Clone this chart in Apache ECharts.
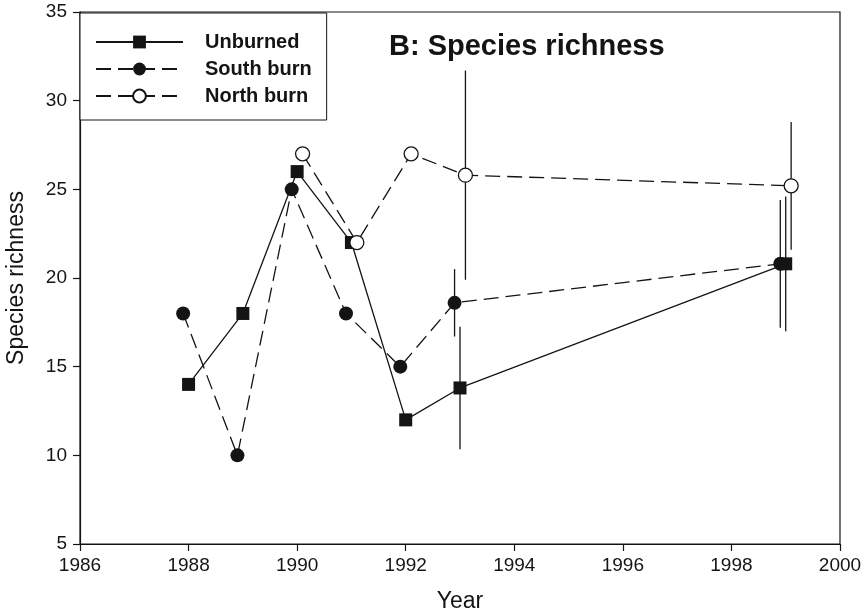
<!DOCTYPE html>
<html>
<head>
<meta charset="utf-8">
<title>Species richness</title>
<script src="https://cdn.jsdelivr.net/npm/echarts@6/dist/echarts.min.js"></script>
<style>
  html, body { margin: 0; padding: 0; background: #fff; }
  #chart { width: 868px; height: 614px; }
</style>
</head>
<body>
<div id="chart"></div>
<script>
// Survey years (plotted with a small horizontal offset per treatment)
const unburnedYears = [1988, 1989, 1990, 1991, 1992, 1993, 1999];
const unburnedValues = [14, 18, 26, 22, 12, 13.8, 20.8];
const unburnedErr = [null, null, null, null, null, 3.45, 3.8];

const southYears = [1987.9, 1988.9, 1989.9, 1990.9, 1991.9, 1992.9, 1998.9];
const southValues = [18, 10, 25, 18, 15, 18.6, 20.8];
const southErr = [null, null, null, null, null, 1.9, 3.6];

const northYears = [1990.1, 1991.1, 1992.1, 1993.1, 1999.1];
const northValues = [27, 22, 27, 25.8, 25.2];
const northErr = [null, null, null, 5.9, 3.6];

const seriesNames = ['Unburned', 'South burn', 'North burn'];
const yearTicks = { min: 1986, max: 2000, step: 2 };
const richnessTicks = { min: 5, max: 35, step: 5 };

const FONT = '"Liberation Sans", Arial, Helvetica, sans-serif';
const INK = '#141414';

function points(xs, ys) {
  return xs.map((x, i) => [x, ys[i]]);
}
function errorRows(xs, ys, es) {
  const rows = [];
  xs.forEach((x, i) => {
    if (es[i] != null) rows.push([x, ys[i] - es[i], ys[i] + es[i]]);
  });
  return rows;
}
function renderErrorBar(params, api) {
  const x = api.value(0);
  const lo = api.coord([x, api.value(1)]);
  const hi = api.coord([x, api.value(2)]);
  return {
    type: 'line',
    shape: { x1: lo[0], y1: lo[1], x2: hi[0], y2: hi[1] },
    style: { stroke: INK, lineWidth: 1.3 }
  };
}
function errorSeries(rows) {
  return {
    type: 'custom',
    renderItem: renderErrorBar,
    data: rows,
    encode: { x: 0, y: [1, 2] },
    z: 1,
    silent: true,
    animation: false
  };
}

const chart = echarts.init(document.getElementById('chart'), null, { renderer: 'canvas' });

chart.setOption({
  animation: false,
  backgroundColor: '#fff',
  textStyle: { fontFamily: FONT },
  title: {
    text: 'B: Species richness',
    left: 384,
    top: 27,
    textStyle: { fontFamily: FONT, fontSize: 29, fontWeight: 'bold', color: INK }
  },
  legend: {
    data: seriesNames,
    orient: 'vertical',
    left: 80,
    top: 13,
    itemWidth: 87,
    itemHeight: 16,
    itemGap: 7,
    padding: [19, 15, 14, 15],
    backgroundColor: '#fff',
    borderColor: INK,
    borderWidth: 1,
    borderRadius: 0,
    selectedMode: false,
    textStyle: {
      fontFamily: FONT, fontSize: 20, fontWeight: 'bold', color: INK,
      padding: [0, 0, 0, 17]
    }
  },
  grid: {
    left: 80, right: 28, top: 12, bottom: 70,
    outerBoundsMode: 'none',
    containLabel: false,
    show: true, borderColor: INK, borderWidth: 1.2, backgroundColor: 'transparent'
  },
  xAxis: {
    type: 'value',
    min: yearTicks.min, max: yearTicks.max, interval: yearTicks.step,
    name: 'Year',
    nameLocation: 'middle',
    nameGap: 46,
    nameTextStyle: { fontFamily: FONT, fontSize: 23, color: INK },
    axisLine: { show: true, lineStyle: { color: INK, width: 1.2 } },
    axisTick: { show: true, inside: false, length: 7, lineStyle: { color: INK, width: 1.2 } },
    axisLabel: { fontFamily: FONT, fontSize: 19, color: INK, margin: 12, formatter: v => String(v) },
    splitLine: { show: false }
  },
  yAxis: {
    type: 'value',
    min: richnessTicks.min, max: richnessTicks.max, interval: richnessTicks.step,
    name: 'Species richness',
    nameLocation: 'middle',
    nameGap: 52,
    nameTextStyle: { fontFamily: FONT, fontSize: 23, color: INK },
    axisLine: { show: true, lineStyle: { color: INK, width: 1.2 } },
    axisTick: { show: true, inside: false, length: 7, lineStyle: { color: INK, width: 1.2 } },
    axisLabel: { fontFamily: FONT, fontSize: 19, color: INK, margin: 13 },
    splitLine: { show: false }
  },
  series: [
    errorSeries(errorRows(unburnedYears, unburnedValues, unburnedErr)),
    errorSeries(errorRows(southYears, southValues, southErr)),
    errorSeries(errorRows(northYears, northValues, northErr)),
    {
      name: seriesNames[0],
      type: 'line',
      data: points(unburnedYears, unburnedValues),
      symbol: 'rect',
      symbolSize: 13,
      z: 3,
      lineStyle: { color: INK, width: 1.3, type: 'solid' },
      itemStyle: { color: INK, borderColor: INK, borderWidth: 0 },
      emphasis: { disabled: true }
    },
    {
      name: seriesNames[1],
      type: 'line',
      data: points(southYears, southValues),
      symbol: 'circle',
      symbolSize: 14,
      z: 3,
      lineStyle: { color: INK, width: 1.3, type: [15, 7] },
      itemStyle: { color: INK, borderColor: INK, borderWidth: 0 },
      emphasis: { disabled: true }
    },
    {
      name: seriesNames[2],
      type: 'line',
      data: points(northYears, northValues),
      symbol: 'circle',
      symbolSize: 14,
      z: 3,
      lineStyle: { color: INK, width: 1.3, type: [15, 7] },
      itemStyle: { color: '#fff', borderColor: INK, borderWidth: 1.3 },
      emphasis: { disabled: true }
    }
  ]
});
</script>
</body>
</html>
